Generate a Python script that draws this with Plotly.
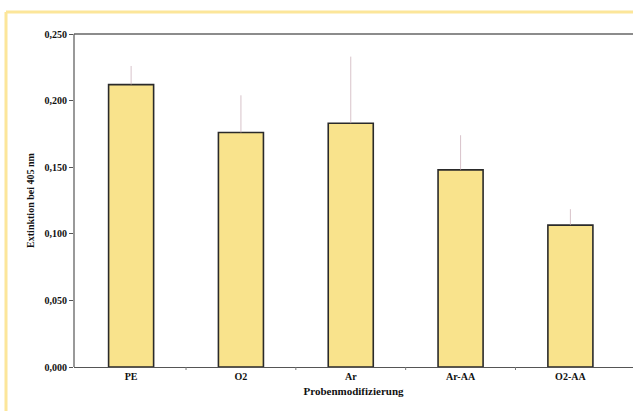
import plotly.graph_objects as go

categories = ["PE", "O2", "Ar", "Ar-AA", "O2-AA"]
values = [0.212, 0.176, 0.183, 0.148, 0.1065]
errors_up = [0.014, 0.028, 0.050, 0.026, 0.012]
ytick_vals = [0.0, 0.05, 0.10, 0.15, 0.20, 0.25]
ytick_text = ["0,000", "0,050", "0,100", "0,150", "0,200", "0,250"]
sep_ticks = [0.5, 1.5, 2.5, 3.5]

W, H = 633, 411
L, R, T, B = 74, 0, 34, 44
pw = W - L - R
ph = H - T - B
XR = [-0.52, 4.57]

def px(x):
    return (x - L) / pw

def py(y):
    return (H - B - y) / ph

xs = list(range(len(categories)))

fig = go.Figure()
fig.add_trace(go.Bar(
    x=xs, y=values,
    marker=dict(color="#F9E38C", line=dict(color="#2a2a2a", width=1.6)),
    width=0.41,
    error_y=dict(type="data", array=errors_up, arrayminus=[0]*len(values),
                 symmetric=False, color="rgba(200,170,180,0.7)", thickness=1, width=0),
))

font = "Liberation Serif, Times New Roman, serif"
shapes = [
    dict(type="rect", xref="paper", yref="paper", x0=px(626), x1=1.02, y0=0.006, y1=0.994,
         fillcolor="white", line=dict(width=0), layer="above"),
    dict(type="line", xref="paper", yref="paper", x0=0, x1=1, y0=1, y1=1,
         line=dict(color="#666", width=1.5)),
    dict(type="line", xref="paper", yref="paper", x0=0, x1=0, y0=0, y1=1,
         line=dict(color="#555", width=1.2)),
    dict(type="line", xref="paper", yref="paper", x0=px(6), x1=1, y0=py(12), y1=py(12),
         line=dict(color="#FCE69A", width=3)),
    dict(type="line", xref="paper", yref="paper", x0=px(6), x1=px(6), y0=py(12), y1=py(H),
         line=dict(color="#FCE69A", width=3)),
]
for s in sep_ticks:
    xp = (s - XR[0]) / (XR[1] - XR[0])
    shapes.append(dict(type="line", xref="paper", yref="paper", x0=xp, x1=xp, y0=0, y1=-3 / ph,
                       line=dict(color="#777", width=1)))

fig.update_layout(
    width=W, height=H,
    margin=dict(l=L, r=R, t=T, b=B),
    paper_bgcolor="white", plot_bgcolor="white",
    showlegend=False,
    font=dict(family=font, color="#111", size=10),
    xaxis=dict(
        range=XR,
        tickmode="array", tickvals=xs, ticktext=["<b>%s</b>" % c for c in categories],
        ticks="", showline=True, linecolor="#555", linewidth=1.2, mirror=False,
        showgrid=False, zeroline=False,
        tickfont=dict(size=10, family=font),
        title=dict(text="<b>Probenmodifizierung</b>", font=dict(size=11, family=font), standoff=6),
    ),
    yaxis=dict(
        range=[0, 0.25],
        tickmode="array", tickvals=ytick_vals, ticktext=["<b>%s</b>" % t for t in ytick_text],
        ticks="outside", ticklen=4, tickcolor="#555",
        showline=False, mirror=False,
        showgrid=False, zeroline=False,
        tickfont=dict(size=10, family=font),
        title=dict(text="<b>Extinktion bei 405 nm</b>", font=dict(size=10, family=font), standoff=8),
    ),
    shapes=shapes,
)
fig.write_html("out.html")
